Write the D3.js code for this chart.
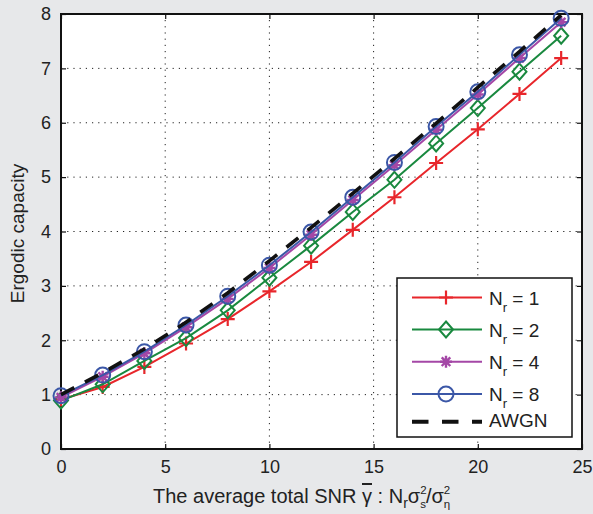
<!DOCTYPE html>
<html>
<head>
<meta charset="utf-8">
<script src="https://cdn.jsdelivr.net/npm/d3@7"></script>
<style>
  body { margin: 0; background: #e7e8ea; }
  svg { display: block; font-family: "Liberation Sans", Arial, sans-serif; }
</style>
</head>
<body>
<svg id="chart" width="593" height="514"></svg>
<script>
// SNR values (x axis)
const snr = [0, 2, 4, 6, 8, 10, 12, 14, 16, 18, 20, 22, 24];
// ergodic capacity
const nr1 = [0.91, 1.14, 1.51, 1.94, 2.39, 2.90, 3.44, 4.03, 4.63, 5.26, 5.88, 6.53, 7.19];
const nr2 = [0.89, 1.19, 1.62, 2.04, 2.55, 3.15, 3.74, 4.36, 4.95, 5.62, 6.27, 6.94, 7.60];
const nr4 = [0.95, 1.33, 1.76, 2.24, 2.76, 3.33, 3.94, 4.58, 5.22, 5.87, 6.52, 7.19, 7.85];
const nr8 = [0.98, 1.36, 1.79, 2.28, 2.81, 3.38, 3.99, 4.63, 5.27, 5.93, 6.57, 7.25, 7.92];
const awgn = [1.00, 1.40, 1.84, 2.33, 2.87, 3.46, 4.07, 4.70, 5.34, 5.99, 6.65, 7.31, 7.98];

const xTicks = [0, 5, 10, 15, 20, 25];
const yTicks = [0, 1, 2, 3, 4, 5, 6, 7, 8];

const series = [
  { name: "1", values: nr1, color: "#e8262b", marker: "plus" },
  { name: "2", values: nr2, color: "#19893f", marker: "diamond" },
  { name: "4", values: nr4, color: "#a447a6", marker: "star" },
  { name: "8", values: nr8, color: "#3b57a7", marker: "circle" }
];

const svg = d3.select("#chart");
const pLeft = 61, pRight = 582, pTop = 14, pBottom = 449;

const x = d3.scaleLinear().domain([0, 25]).range([pLeft, pRight]);
const y = d3.scaleLinear().domain([0, 8]).range([pBottom, pTop]);

// plot background
svg.append("rect")
  .attr("x", pLeft).attr("y", pTop)
  .attr("width", pRight - pLeft).attr("height", pBottom - pTop)
  .attr("fill", "white");

// dotted grid
const grid = svg.append("g").attr("stroke", "#222").attr("stroke-width", 1)
  .attr("stroke-dasharray", "1.2,5");
grid.selectAll("line.gx").data(xTicks.slice(1, -1)).enter().append("line")
  .attr("x1", d => x(d)).attr("x2", d => x(d))
  .attr("y1", pBottom).attr("y2", pTop);
grid.selectAll("line.gy").data(yTicks.slice(1, -1)).enter().append("line")
  .attr("y1", d => y(d)).attr("y2", d => y(d))
  .attr("x1", pLeft).attr("x2", pRight);

// axes (ticks inward, on all four sides)
function styleAxis(g) {
  g.select(".domain").remove();
  g.selectAll(".tick line").attr("stroke", "#111").attr("stroke-width", 1.2);
  g.selectAll(".tick text").attr("fill", "#222").attr("font-size", 18)
    .attr("font-family", "Liberation Sans, Arial, sans-serif");
}
svg.append("g").attr("transform", `translate(0,${pBottom})`)
  .call(d3.axisBottom(x).tickValues(xTicks).tickSize(-5).tickPadding(11))
  .call(styleAxis);
svg.append("g").attr("transform", `translate(${pLeft},0)`)
  .call(d3.axisLeft(y).tickValues(yTicks).tickSize(-5).tickPadding(10))
  .call(styleAxis);
svg.append("g").attr("transform", `translate(0,${pTop})`)
  .call(d3.axisTop(x).tickValues(xTicks).tickSize(-5).tickFormat(""))
  .call(styleAxis);
svg.append("g").attr("transform", `translate(${pRight},0)`)
  .call(d3.axisRight(y).tickValues(yTicks).tickSize(-5).tickFormat(""))
  .call(styleAxis);

svg.append("rect")
  .attr("x", pLeft).attr("y", pTop)
  .attr("width", pRight - pLeft).attr("height", pBottom - pTop)
  .attr("fill", "none").attr("stroke", "#111").attr("stroke-width", 2);

// markers
function drawMarker(g, type, color) {
  if (type === "plus") {
    g.append("path").attr("d", "M-7,0H7M0,-7V7")
      .attr("stroke", color).attr("stroke-width", 2.2).attr("fill", "none");
  } else if (type === "diamond") {
    g.append("path").attr("d", "M0,-8L7,0L0,8L-7,0Z")
      .attr("stroke", color).attr("stroke-width", 2).attr("fill", "none");
  } else if (type === "star") {
    g.append("path").attr("d", "M-6,0H6M0,-6V6M-4.3,-4.3L4.3,4.3M-4.3,4.3L4.3,-4.3")
      .attr("stroke", color).attr("stroke-width", 2.4).attr("fill", "none");
  } else if (type === "circle") {
    g.append("circle").attr("r", 7.5)
      .attr("stroke", color).attr("stroke-width", 2).attr("fill", "none");
  }
}

const line = d3.line().x((d, i) => x(snr[i])).y(d => y(d));

series.forEach(s => {
  svg.append("path").datum(s.values)
    .attr("d", line).attr("fill", "none")
    .attr("stroke", s.color).attr("stroke-width", 2);
  s.values.forEach((v, i) => {
    const g = svg.append("g").attr("transform", `translate(${x(snr[i])},${y(v)})`);
    drawMarker(g, s.marker, s.color);
  });
});

svg.append("path").datum(awgn)
  .attr("d", line).attr("fill", "none")
  .attr("stroke", "#111").attr("stroke-width", 3.6)
  .attr("stroke-dasharray", "15,12");

// legend
const lg = svg.append("g");
lg.append("rect").attr("x", 397).attr("y", 278).attr("width", 175).attr("height", 159)
  .attr("fill", "white").attr("stroke", "#111").attr("stroke-width", 1.5);
const rowY = [297.5, 329.5, 361.7, 394, 421.7];
series.forEach((s, i) => {
  lg.append("line").attr("x1", 412).attr("x2", 482).attr("y1", rowY[i]).attr("y2", rowY[i])
    .attr("stroke", s.color).attr("stroke-width", 2);
  drawMarker(lg.append("g").attr("transform", `translate(446,${rowY[i]})`), s.marker, s.color);
  const t = lg.append("text").attr("x", 489).attr("y", rowY[i] + 7)
    .attr("font-size", 19).attr("fill", "#222");
  t.append("tspan").text("N");
  t.append("tspan").attr("font-size", 13).attr("dy", 7).text("r");
  t.append("tspan").attr("dy", -7).text(" = " + s.name);
});
lg.append("line").attr("x1", 412).attr("x2", 482).attr("y1", rowY[4]).attr("y2", rowY[4])
  .attr("stroke", "#111").attr("stroke-width", 4).attr("stroke-dasharray", "16.5,13.5");
lg.append("text").attr("x", 489).attr("y", rowY[4] + 5)
  .attr("font-size", 19).attr("fill", "#222").text("AWGN");

// y axis title
svg.append("text")
  .attr("transform", `translate(24,${(pTop + pBottom) / 2 + 2}) rotate(-90)`)
  .attr("text-anchor", "middle").attr("font-size", 19).attr("fill", "#222")
  .text("Ergodic capacity");

// x axis title
const xt = svg.append("text").attr("x", 153).attr("y", 503)
  .attr("font-size", 20).attr("fill", "#222");
xt.append("tspan").text("The average total SNR ");
xt.append("tspan").attr("text-decoration", "overline").text("γ");
xt.append("tspan").text(" : N");
xt.append("tspan").attr("font-size", 14).attr("dy", 5).text("r");
xt.append("tspan").attr("dy", -5).text("σ");
xt.append("tspan").attr("font-size", 11.5).attr("dy", -9).text("2");
xt.append("tspan").attr("font-size", 11.5).attr("dx", -6.4).attr("dy", 14).text("s");
xt.append("tspan").attr("dy", -5).text("/σ");
xt.append("tspan").attr("font-size", 11.5).attr("dy", -9).text("2");
xt.append("tspan").attr("font-size", 11.5).attr("dx", -6.4).attr("dy", 14).text("η");
</script>
</body>
</html>
